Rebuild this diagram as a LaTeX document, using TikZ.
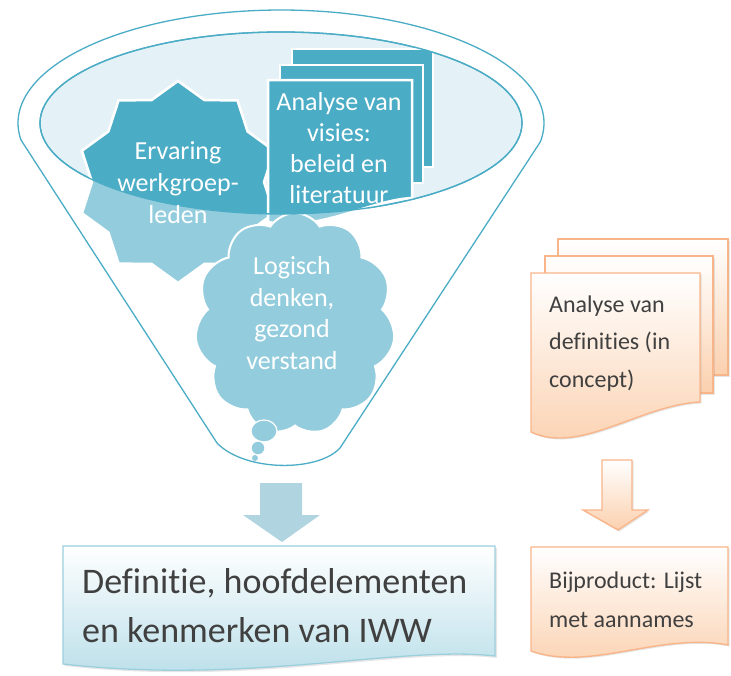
\documentclass[tikz,border=0pt]{standalone}
\usepackage{fontspec}
\setmainfont{Carlito}[Ligatures={NoCommon}]
\usetikzlibrary{shapes.symbols,shadows}
\definecolor{tealdark}{HTML}{4BACC6}
\definecolor{teallight}{HTML}{93CDDD}
\definecolor{ellfill}{HTML}{E4F1F6}
\definecolor{bluearrow}{HTML}{B0D4E0}
\definecolor{bluebot}{HTML}{B6DDE8}
\definecolor{blueborder}{HTML}{9CCFDD}
\definecolor{orbot}{HTML}{FBD0AE}
\definecolor{orborder}{HTML}{F9B58A}
\definecolor{txtgray}{HTML}{404040}
\def\starpath{plot[samples at={0,...,19}] ({178+(86+15*(1-mod(\x,2)))*cos(90+18*\x)},{182-(86+15*(1-mod(\x,2)))*sin(90+18*\x)}) -- cycle}
\def\frontdoc{(268,80) -- (412,80) -- (412,198) .. controls (370,200) and (320,232) .. (268,222) -- cycle}
\begin{document}
\begin{tikzpicture}[x=1pt,y=-1pt,
  wtxt/.style={text=white, align=center, inner sep=0pt, font=\fontsize{26}{31.5}\selectfont},
  whiteborder/.style={draw=white, line width=2.5pt},
  orshape/.style={draw=orborder, line width=1.4pt, top color=white, bottom color=orbot,
     drop shadow={shadow xshift=1.5pt, shadow yshift=-1.5pt, opacity=0.2}},
  grtxt/.style={text=txtgray, align=left, inner sep=0pt, anchor=base west}]
\useasboundingbox (0,0) rectangle (731,675);
% funnel
\draw[tealdark, line width=1.3pt, fill=white]
  plot[domain=171.35:369.7, samples=120] ({281+263*cos(\x)},{123+113*sin(\x)})
  -- (340,448) .. controls (318,472) and (245,472) .. (217,443) -- cycle;
% inner ellipse
\draw[tealdark, line width=1.3pt, fill=ellfill] (281,123) ellipse [x radius=241pt, y radius=91pt];
% light (outside-ellipse) versions
\path[whiteborder, fill=teallight] \starpath;
\path[whiteborder, fill=teallight] \frontdoc;
% cloud
\node[cloud, cloud puffs=11, cloud puff arc=115, minimum width=200pt, minimum height=222pt,
      fill=teallight, draw=white, line width=2pt] (cloud) at (295,324) {};
\fill[teallight, draw=white, line width=1.2pt] (264,431) ellipse [x radius=13pt, y radius=11pt];
\fill[teallight, draw=white, line width=1.2pt] (258,448) circle [radius=7pt];
\fill[teallight] (255,458) circle [radius=3pt];
% dark versions inside ellipse
\begin{scope}
  \clip (281,123) ellipse [x radius=241pt, y radius=91pt];
  \path[whiteborder, fill=tealdark] \starpath;
  \path[whiteborder, fill=tealdark] (292,49) rectangle (433,167);
  \path[whiteborder, fill=tealdark] (280,65) rectangle (423,183);
  \path[whiteborder, fill=tealdark] \frontdoc;
  \node[wtxt, font=\fontsize{26}{31}\selectfont, anchor=base] (visies) at (339,203)
    {Analyse van\\visies:\\beleid en\\literatuur};
\end{scope}
\draw[tealdark, line width=1.3pt] (281,123) ellipse [x radius=241pt, y radius=91pt];
\node[wtxt, font=\fontsize{26}{32}\selectfont, anchor=base] (ervaring) at (178,223)
  {Ervaring\\werkgroep-\\leden};
\node[wtxt, anchor=base] (logisch) at (292,369)
  {Logisch\\denken,\\gezond\\verstand};
% blue arrow and box
\fill[bluearrow] (260,483) -- (302,483) -- (302,515) -- (320,515) -- (282,542)
  -- (243,515) -- (260,515) -- cycle;
\draw[draw=blueborder, line width=1.3pt, top color=white, bottom color=bluebot,
      drop shadow={shadow xshift=2pt, shadow yshift=-2pt, opacity=0.2}]
  (63,546) -- (495,546) -- (495,656) .. controls (400,645) and (250,685) .. (63,664) -- cycle;
\node[grtxt, font=\fontsize{36}{49}\selectfont] (iww) at (82,642)
  {Definitie, hoofdelementen\\en kenmerken van IWW};
% orange
\path[orshape] (558,239) rectangle (728,375);
\path[orshape] (545,256) rectangle (713,393);
\path[orshape] (531,273) -- (700,273) -- (700,402) .. controls (640,405) and (580,455) .. (531,432) -- cycle;
\node[grtxt, font=\fontsize{24}{37.5}\selectfont] (defs) at (549,387)
  {Analyse van\\definities (in\\concept)};
\path[orshape] (602,460) -- (632,460) -- (632,510) -- (648,510) -- (618,530) -- (583,510) -- (602,510) -- cycle;
\path[orshape] (531,547) -- (728,547) -- (728,645) .. controls (660,632) and (590,672) .. (531,651) -- cycle;
\node[grtxt, font=\fontsize{24}{39}\selectfont] (bij) at (549,627)
  {Bijproduct: Lijst\\met aannames};
\end{tikzpicture}
\end{document}
